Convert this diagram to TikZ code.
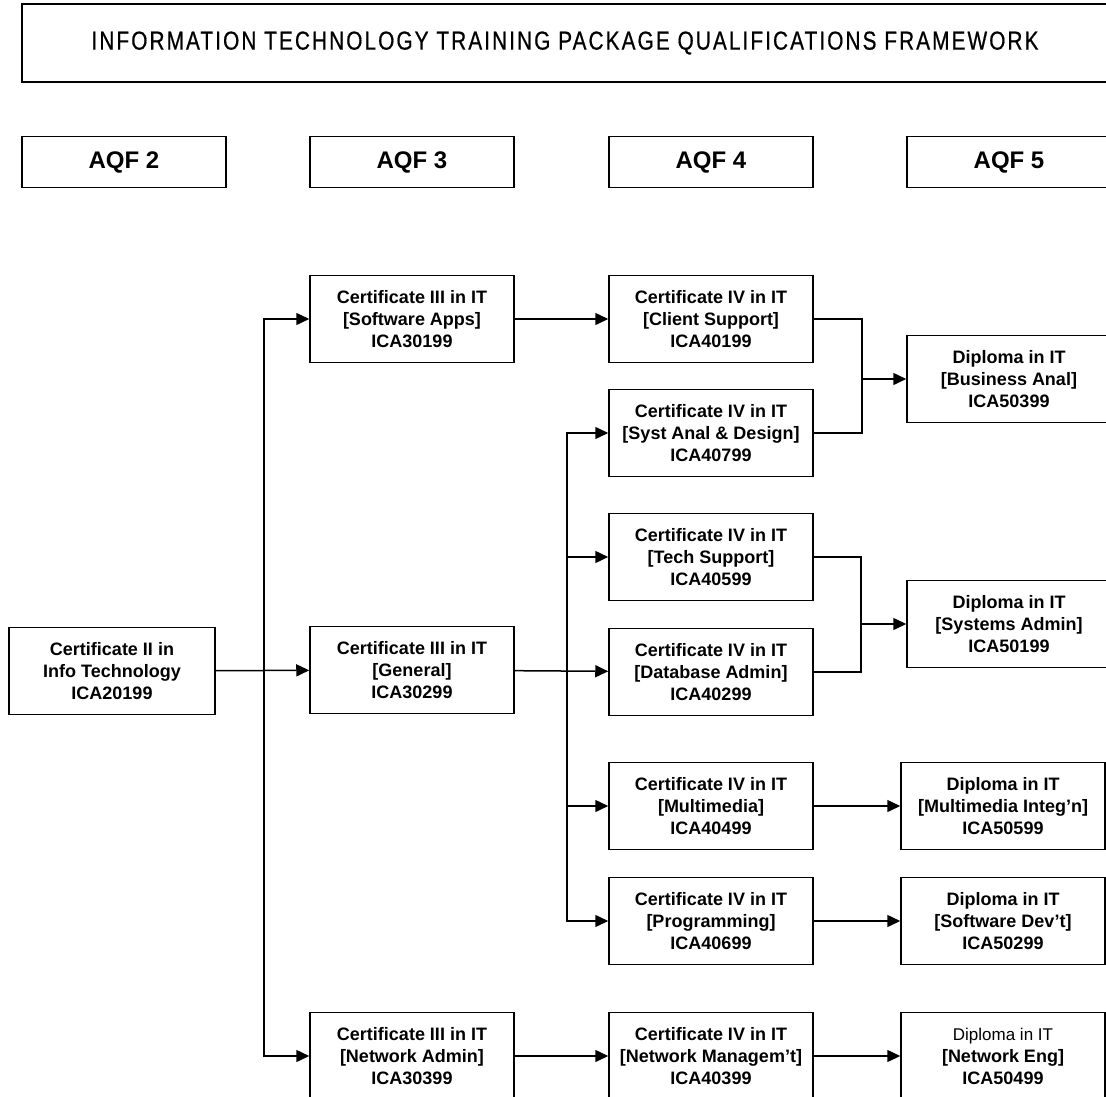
\documentclass[tikz,border=0pt]{standalone}
\usepackage{fontspec}
\setmainfont{Liberation Sans}
\newfontfamily\titlefont[FakeStretch=0.8,LetterSpace=8,FakeBold=0.6]{Liberation Sans}
\usetikzlibrary{arrows.meta,positioning}
\tikzset
{
    qualbox/.style = {rectangle, draw=black, line width=1.5pt, align=center, inner sep=0pt, minimum width=204pt, minimum height=87pt, font=\bfseries\fontsize{18}{22}\selectfont},
    levelbox/.style = {rectangle, draw=black, line width=1.5pt, inner sep=0pt, minimum width=204pt, minimum height=51pt, font=\bfseries\fontsize{24}{28}\selectfont},
    titlebox/.style = {rectangle, draw=black, line width=1.5pt, inner sep=0pt, minimum width=1086pt, minimum height=78pt, font=\titlefont\fontsize{26}{30}\selectfont}
}

\begin{document}
\begin{tikzpicture}[x=1pt,y=-1pt,->,>={Triangle[length=13pt,width=12pt]},line width=1.5pt]
\useasboundingbox (0,0) rectangle (1106,1097);
\clip (0,0) rectangle (1106,1097);
\node [titlebox] (title) at (565,43) {INFORMATION TECHNOLOGY TRAINING PACKAGE QUALIFICATIONS FRAMEWORK};
\node [levelbox] (aqf2) at (124,162) {AQF 2};
\node [levelbox] (aqf3) at (412,162) {AQF 3};
\node [levelbox] (aqf4) at (711,162) {AQF 4};
\node [levelbox] (aqf5) at (1009,162) {AQF 5};

\node [qualbox, minimum width=206pt] (cert2) at (112,671) {Certificate II in \\ Info Technology \\ ICA20199};

\node [qualbox] (soft3) at (412,319) {Certificate III in IT \\ {[}Software Apps{]} \\ ICA30199};
\node [qualbox] (gen3) at (412,670) {Certificate III in IT \\ {[}General{]} \\ ICA30299};
\node [qualbox] (net3) at (412,1056) {Certificate III in IT \\ {[}Network Admin{]} \\ ICA30399};

\node [qualbox] (client4) at (711,319) {Certificate IV in IT \\ {[}Client Support{]} \\ ICA40199};
\node [qualbox] (sad4) at (711,433) {Certificate IV in IT \\ {[}Syst Anal \& Design{]} \\ ICA40799};
\node [qualbox] (tech4) at (711,557) {Certificate IV in IT \\ {[}Tech Support{]} \\ ICA40599};
\node [qualbox] (dba4) at (711,672) {Certificate IV in IT \\ {[}Database Admin{]} \\ ICA40299};
\node [qualbox] (mm4) at (711,806) {Certificate IV in IT \\ {[}Multimedia{]} \\ ICA40499};
\node [qualbox] (prog4) at (711,921) {Certificate IV in IT \\ {[}Programming{]} \\ ICA40699};
\node [qualbox] (mgmt4) at (711,1056) {Certificate IV in IT \\ {[}Network Managem't{]} \\ ICA40399};

\node [qualbox] (bus5) at (1009,379) {Diploma in IT \\ {[}Business Anal{]} \\ ICA50399};
\node [qualbox] (sys5) at (1009,624) {Diploma in IT \\ {[}Systems Admin{]} \\ ICA50199};
\node [qualbox] (mmi5) at (1003,806) {Diploma in IT \\ {[}Multimedia Integ'n{]} \\ ICA50599};
\node [qualbox] (swd5) at (1003,921) {Diploma in IT \\ {[}Software Dev't{]} \\ ICA50299};
\node [qualbox] (neteng5) at (1003,1056) {{\mdseries\fontsize{17}{22}\selectfont Diploma in IT} \\ {[}Network Eng{]} \\ ICA50499};

\coordinate (trunkA) at (264,671);
\coordinate (trunkB) at (567,672);
\coordinate (joinA) at (862,379);
\coordinate (joinB) at (861,624);

\draw (cert2) -- (gen3);
\draw (trunkA) |- (soft3);
\draw (trunkA) |- (net3);
\draw (soft3) -- (client4);
\draw (gen3) -- (dba4);
\draw (trunkB) |- (sad4);
\draw (trunkB) |- (tech4);
\draw (trunkB) |- (mm4);
\draw (trunkB) |- (prog4);
\draw (net3) -- (mgmt4);
\draw[-] (client4) -| (joinA);
\draw[-] (sad4) -| (joinA);
\draw (joinA) -- (bus5);
\draw[-] (tech4) -| (joinB);
\draw[-] (dba4) -| (joinB);
\draw (joinB) -- (sys5);
\draw (mm4) -- (mmi5);
\draw (prog4) -- (swd5);
\draw (mgmt4) -- (neteng5);
\end{tikzpicture}
\end{document}
